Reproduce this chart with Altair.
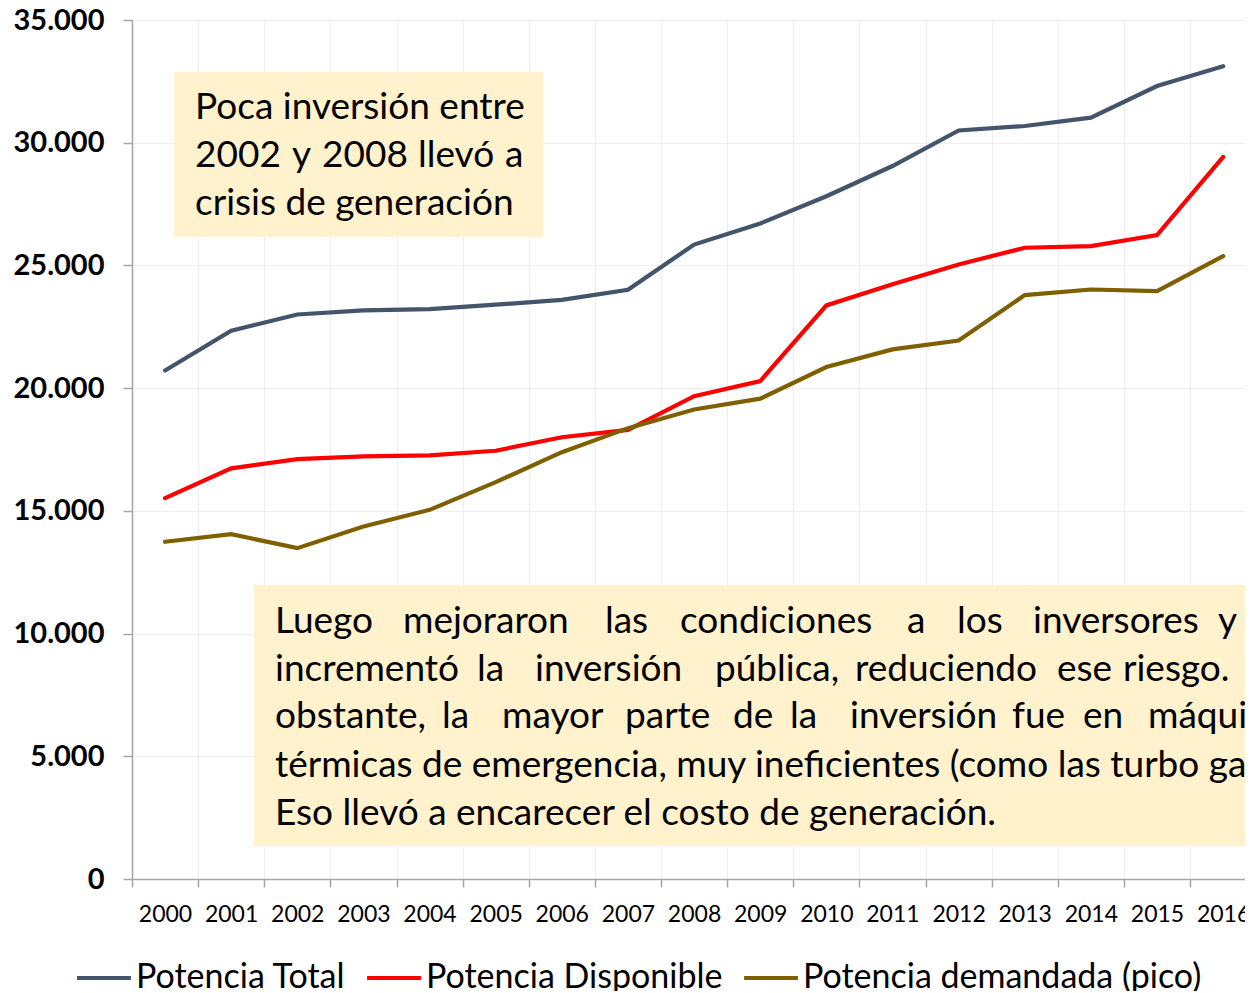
import altair as alt
import pandas as pd

# ---------------- data ----------------
years = list(range(2000, 2017))
series_names = ["Potencia Total", "Potencia Disponible", "Potencia demandada (pico)"]
series_colors = ["#44546A", "#FF0000", "#7F6000"]

potencia_total = [20720, 22340, 23000, 23170, 23220, 23400, 23600, 24010,
                  25850, 26710, 27820, 29050, 30500, 30680, 31020, 32310, 33120]
potencia_disponible = [15520, 16730, 17110, 17220, 17260, 17450, 18000, 18300,
                       19670, 20290, 23370, 24230, 25040, 25720, 25790, 26240, 29420]
potencia_demandada = [13740, 14050, 13480, 14360, 15040, 16170, 17390, 18370,
                      19130, 19570, 20860, 21580, 21940, 23790, 24020, 23950, 25380]

y_ticks = [0, 5000, 10000, 15000, 20000, 25000, 30000, 35000]
x_tick_bounds = [y - 0.5 for y in years]

note1_lines = ["Poca inversión entre", None, "crisis de generación"]
note1_justified = ["2002", "y", "2008", "llevó", "a"]
note2_line1 = ["Luego", "mejoraron", "las", "condiciones", "a", "los", "inversores", "y"]
note2_line2 = ["incrementó", "la", "inversión", "pública,", "reduciendo", "ese", "riesgo."]
note2_line3 = ["obstante,", "la", "mayor", "parte", "de", "la", "inversión", "fue", "en", "máquinas"]
note2_line4 = "térmicas de emergencia, muy ineficientes (como las turbo gas)"
note2_line5 = "Eso llevó a encarecer el costo de generación."

# ---------------- layout (annotation placement, pixels in plot area) ----------------
W, H = 1113, 859
FONT = "Lato"
NOTE_SIZE = 37
BOX_FILL = "#FFF2CC"

rows = []
for name, vals in zip(series_names, [potencia_total, potencia_disponible, potencia_demandada]):
    for yr, v in zip(years, vals):
        rows.append({"year": yr, "value": v, "series": name})
df = pd.DataFrame(rows)

one = pd.DataFrame({"k": [0]})

x_scale = alt.Scale(domain=[1999.5, 2016.33], nice=False, zero=False)
y_scale = alt.Scale(domain=[0, 35000], nice=False, zero=True)

lines = alt.Chart(df).mark_line(strokeWidth=4.2, strokeCap="round").encode(
    x=alt.X("year:Q", scale=x_scale,
            axis=alt.Axis(values=x_tick_bounds, title=None,
                          labelExpr="format(datum.value + 0.5, 'd')",
                          labelOffset=33, labelFont=FONT, labelFontSize=23,
                          labelColor="#000000", labelPadding=16, labelFlush=False,
                          labelOverlap=False, tickSize=8, tickColor="#A6A6A6",
                          tickWidth=1.5, domainColor="#A6A6A6", domainWidth=1.5,
                          grid=True, gridColor="#EEEEEE", gridWidth=1.2)),
    y=alt.Y("value:Q", scale=y_scale,
            axis=alt.Axis(values=y_ticks, title=None,
                          labelExpr="replace(format(datum.value, ','), ',', '.')",
                          labelFont=FONT, labelFontSize=29, labelFontWeight="bold",
                          labelColor="#000000", labelPadding=19, tickSize=9,
                          tickColor="#A6A6A6", tickWidth=1.5, domainColor="#A6A6A6",
                          domainWidth=1.5, grid=True, gridColor="#EEEEEE", gridWidth=1.2)),
    color=alt.Color("series:N", sort=series_names,
                    scale=alt.Scale(domain=series_names, range=series_colors),
                    legend=alt.Legend(orient="none", legendX=-57, legendY=929,
                                      direction="horizontal", title=None,
                                      symbolType="stroke", symbolStrokeWidth=4,
                                      symbolSize=2900, labelFont=FONT,
                                      labelFontSize=34, labelColor="#000000",
                                      labelLimit=700, columnPadding=13,
                                      labelOffset=3)),
    order=alt.Order("year:Q"),
)

def box(x1, x2, y1, y2):
    return alt.Chart(one).mark_rect(fill=BOX_FILL, clip=True).encode(
        x=alt.value(x1), x2=alt.value(x2), y=alt.value(y1), y2=alt.value(y2))

def word(txt, px, py):
    return alt.Chart(one).mark_text(align="left", baseline="alphabetic", font=FONT,
                                    fontSize=NOTE_SIZE, color="#000000", clip=True).encode(
        x=alt.value(px), y=alt.value(py), text=alt.value(txt))

layers = [box(42, 411, 52, 217), box(122, W, 565, 826)]

# note 1
layers.append(word(note1_lines[0], 63, 99))
for w, px in zip(note1_justified, [63, 160, 190, 286, 373]):
    layers.append(word(w, px, 147))
layers.append(word(note1_lines[2], 63, 195))

# note 2 (justified lines placed word by word)
for w, px in zip(note2_line1, [143, 271, 473, 548, 775, 825, 901, 1086]):
    layers.append(word(w, px, 613))
for w, px in zip(note2_line2, [143, 345, 403, 583, 723, 925, 991]):
    layers.append(word(w, px, 661))
for w, px in zip(note2_line3, [143, 310, 370, 493, 601, 658, 718, 880, 951, 1016]):
    layers.append(word(w, px, 708))
layers.append(word(note2_line4, 143, 757))
layers.append(word(note2_line5, 143, 805))

chart = alt.layer(*layers, lines).properties(
    width=W, height=H,
    autosize=alt.AutoSizeParams(type="none"),
    padding={"left": 124, "top": 12, "right": 0, "bottom": 112},
).configure_view(stroke=None)

chart.save("out.html", embed_options={"renderer": "svg", "actions": False})
